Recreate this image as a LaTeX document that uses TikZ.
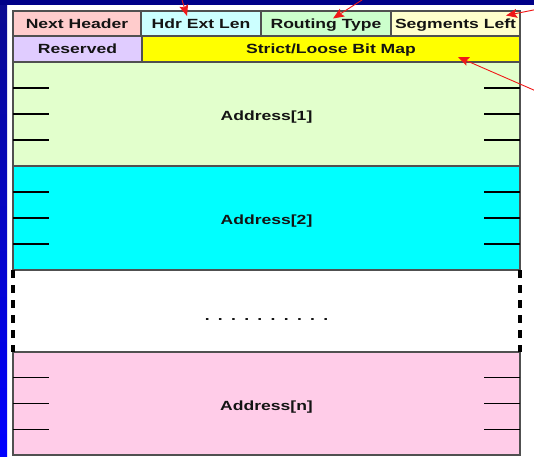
\documentclass[tikz,border=0pt]{standalone}
\usepackage{fontspec}
\setmainfont{Liberation Sans}[FakeStretch=1.32]
\usetikzlibrary{arrows.meta,calc}
\definecolor{cNH}{HTML}{FFCCCC}
\definecolor{cHEL}{HTML}{CCFFFF}
\definecolor{cRT}{HTML}{CCFFCC}
\definecolor{cSL}{HTML}{FFFFCC}
\definecolor{cRes}{HTML}{E0CCFF}
\definecolor{cBM}{HTML}{FFFF00}
\definecolor{cAone}{HTML}{E2FFCC}
\definecolor{cAtwo}{HTML}{00FFFF}
\definecolor{cAn}{HTML}{FFCCE8}
\definecolor{cEdge}{HTML}{505050}
\definecolor{cNavy}{HTML}{000088}
\definecolor{cDeep}{HTML}{0A0A90}
\definecolor{cArrow}{HTML}{F01818}
\newcommand\dotrow{.\hspace{8.3pt}.\hspace{8.3pt}.\hspace{8.3pt}.\hspace{8.3pt}.\hspace{8.3pt}.\hspace{8.3pt}.\hspace{8.3pt}.\hspace{8.3pt}.\hspace{8.3pt}.}
\begin{document}
\begin{tikzpicture}[x=1pt,y=-1pt,
  cell/.style={draw=cEdge, line width=1.2pt, inner sep=0pt, outer sep=0pt,
    font=\fontsize{13.3}{15}\selectfont\bfseries, text=black!92,
    text height=9.5pt, text depth=0pt},
  hrow/.style={cell, minimum height=25pt},
  brow/.style={cell, minimum height=26pt},
  addr/.style={cell, minimum width=507pt, minimum height=104pt, text height=13.5pt},
  tick/.style={black, line width=1.3pt},
  gapedge/.style={black, line width=3.5pt, dash pattern=on 7.5pt off 7.5pt},
  redarrow/.style={cArrow, line width=0.9pt, -{Stealth[length=11pt,width=9pt,inset=2pt]}}]
\useasboundingbox (0,0) rectangle (534,456);
% background
\fill[white] (0,0) rectangle (534,456);
\fill[top color=cDeep, bottom color=blue] (0,0) rectangle (7,456);
\fill[cNavy] (0,0) rectangle (534,5);
% header rows
\node[hrow, fill=cNH,  minimum width=128pt] (nh)  at (77,23.5)    {Next Header};
\node[hrow, fill=cHEL, minimum width=120pt] (hel) at (201,23.5)   {Hdr Ext Len};
\node[hrow, fill=cRT,  minimum width=130pt] (rt)  at (326,23.5)   {Routing Type};
\node[hrow, fill=cSL,  minimum width=129pt] (sl)  at (455.5,23.5) {Segments Left};
\node[brow, fill=cRes, minimum width=129pt] (res) at (77.5,49)    {Reserved};
\node[brow, fill=cBM,  minimum width=378pt] (bm)  at (331,49)     {Strict/Loose Bit Map};
% address blocks
\node[addr, fill=cAone] (a1) at (266.5,114) {Address[1]};
\node[addr, fill=cAtwo] (a2) at (266.5,218) {Address[2]};
\node[addr, fill=white, draw=none, minimum height=82pt, text height=9.5pt] (gap) at (266.5,311) {\raisebox{-4.7pt}{\dotrow}};
\node[addr, fill=cAn, minimum height=103pt, text height=14.5pt] (an) at (266.5,403.5) {Address[n]};
\draw[cEdge, line width=1.2pt] (a2.south west) -- (a2.south east);
\draw[gapedge] (gap.north west) -- (gap.south west);
\draw[gapedge] (gap.north east) -- (gap.south east);
% ticks
\foreach \b in {a1,a2,an}{
  \foreach \f in {0.25,0.5,0.75}{
    \draw[tick] ($(\b.north west)!\f!(\b.south west)$) -- ++(36,0);
    \draw[tick] ($(\b.north east)!\f!(\b.south east)$) -- ++(-36,0);
  }
}
% arrows from outside
\coordinate (s1) at (182,0);   \coordinate (t1) at (187,16);
\coordinate (s2) at (362,0);   \coordinate (t2) at (333,18.5);
\coordinate (s3) at (536,9.5); \coordinate (t3) at (506,15.5);
\coordinate (s4) at (536,91);  \coordinate (t4) at (458,57);
\draw[redarrow] (s1) -- (t1);
\draw[redarrow] (s2) -- (t2);
\draw[redarrow] (s3) -- (t3);
\draw[redarrow] (s4) -- (t4);
\end{tikzpicture}
\end{document}
